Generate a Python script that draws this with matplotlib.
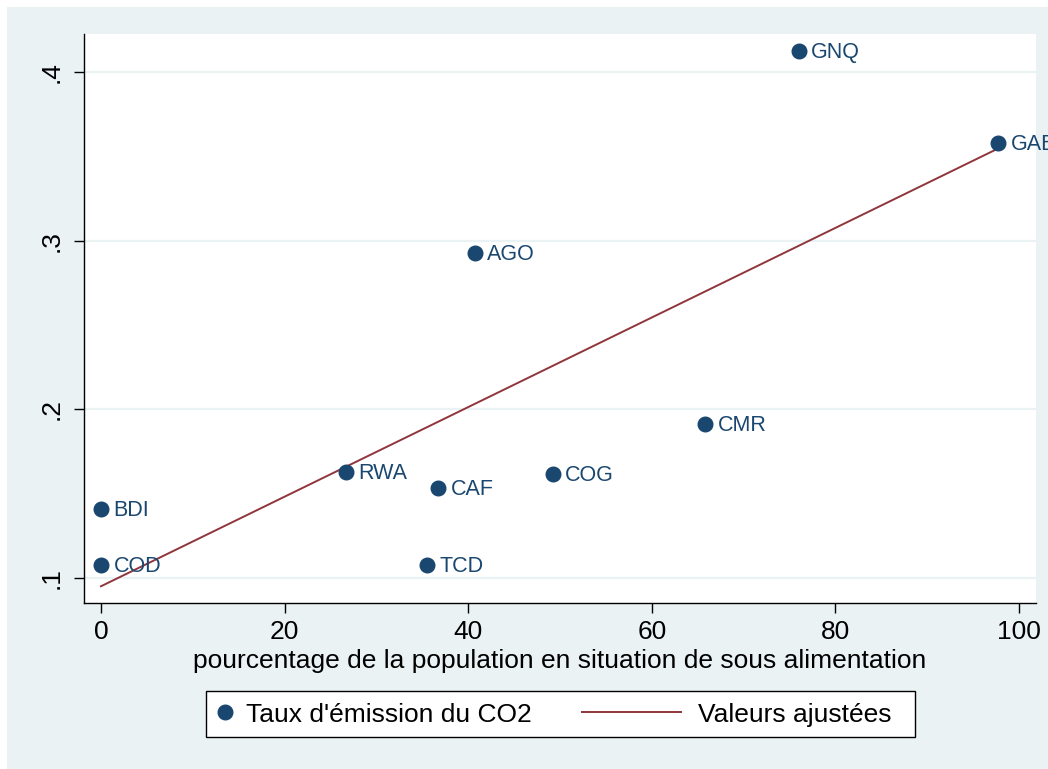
import numpy as np
import matplotlib
matplotlib.use("Agg")
import matplotlib.pyplot as plt
from matplotlib.lines import Line2D
from matplotlib.legend_handler import HandlerLine2D
from matplotlib.patches import Rectangle

plt.rcParams['font.family'] = ['Liberation Sans', 'DejaVu Sans']

# Data
countries = ["GNQ", "GAB", "AGO", "CMR", "RWA", "CAF", "COG", "BDI", "COD", "TCD"]
undernourish = [76.0, 97.7, 40.7, 65.8, 26.7, 36.7, 49.2, 0.0, 0.0, 35.5]
co2 = [0.4124, 0.3579, 0.2927, 0.1913, 0.1628, 0.1534, 0.1617, 0.1409, 0.1077, 0.1077]
xticks = [0, 20, 40, 60, 80, 100]
xticklabels = ["0", "20", "40", "60", "80", "100"]
yticks = [0.1, 0.2, 0.3, 0.4]
yticklabels = [".1", ".2", ".3", ".4"]

NAVY = "#1A476F"
MAROON = "#90353B"
BG = "#EAF2F3"

x = np.array(undernourish)
y = np.array(co2)
slope, intercept = np.polyfit(x, y, 1)
xs = np.sort(x)
yfit = intercept + slope * xs

fig = plt.figure(figsize=(10.48, 7.69), dpi=100)
fig.patch.set_facecolor("white")
fig.patches.append(Rectangle((7/1048, 0), 1, 1 - 7/769, transform=fig.transFigure,
                             facecolor=BG, edgecolor="none", zorder=-10))

ax = fig.add_axes([84/1048, 1 - 603/769, (1036-84)/1048, (603-34)/769])
ax.set_facecolor("white")
ax.set_xlim(-1.85, 101.85)
ax.set_ylim(0.0852, 0.4225)

for t in yticks:
    ax.axhline(t, color=BG, lw=1.6, zorder=0)

ax.plot(x, y, 'o', color=NAVY, markersize=10.5, linestyle='none', zorder=3,
        clip_on=False)
for c, xi, yi in zip(countries, x, y):
    ax.annotate(c, (xi, yi), xytext=(9, -1.2), textcoords='offset points',
                va='center', ha='left', fontsize=15.5, color=NAVY, zorder=4,
                annotation_clip=False)
ax.plot(xs, yfit, color=MAROON, lw=1.4, zorder=2)

for s in ["top", "right"]:
    ax.spines[s].set_visible(False)
for s in ["left", "bottom"]:
    ax.spines[s].set_color("black")
    ax.spines[s].set_linewidth(1.0)

ax.set_xticks(xticks)
ax.set_xticklabels(xticklabels)
ax.set_yticks(yticks)
ax.set_yticklabels(yticklabels, rotation=90, va='center')
ax.tick_params(axis='both', direction='out', length=7, width=1.0, color='black',
               labelsize=19)
ax.tick_params(axis='x', pad=5)
ax.tick_params(axis='y', pad=8)
ax.set_xlabel("pourcentage de la population en situation de sous alimentation",
              fontsize=19, labelpad=4)


class LeftMarker(HandlerLine2D):
    def get_xdata(self, legend, xdescent, ydescent, width, height, fontsize):
        xd = np.array([-xdescent, -xdescent + width])
        xm = np.array([-xdescent + 5.4])
        return xd, xm


class LeftLine(HandlerLine2D):
    def get_xdata(self, legend, xdescent, ydescent, width, height, fontsize):
        xd = np.array([-xdescent - 61.4, -xdescent + width - 5])
        xm = np.array([-xdescent + width / 2])
        return xd, xm


h1 = Line2D([], [], marker='o', color=NAVY, linestyle='none', markersize=10.5)
h2 = Line2D([], [], color=MAROON, lw=1.4)
leg = fig.legend([h1, h2], ["Taux d'émission du CO2", "Valeurs ajustées  "],
                 loc='center', bbox_to_anchor=(560.5/1048, 1 - 714/769), ncol=2,
                 fontsize=19, frameon=True, fancybox=False, framealpha=1,
                 edgecolor='black', handlelength=0.8, handletextpad=0.38,
                 columnspacing=5.12, borderpad=0.35, handleheight=1.1,
                 handler_map={h1: LeftMarker(), h2: LeftLine()})
leg.get_frame().set_linewidth(1.0)

fig.savefig("out.png", dpi=100, facecolor=fig.get_facecolor())
